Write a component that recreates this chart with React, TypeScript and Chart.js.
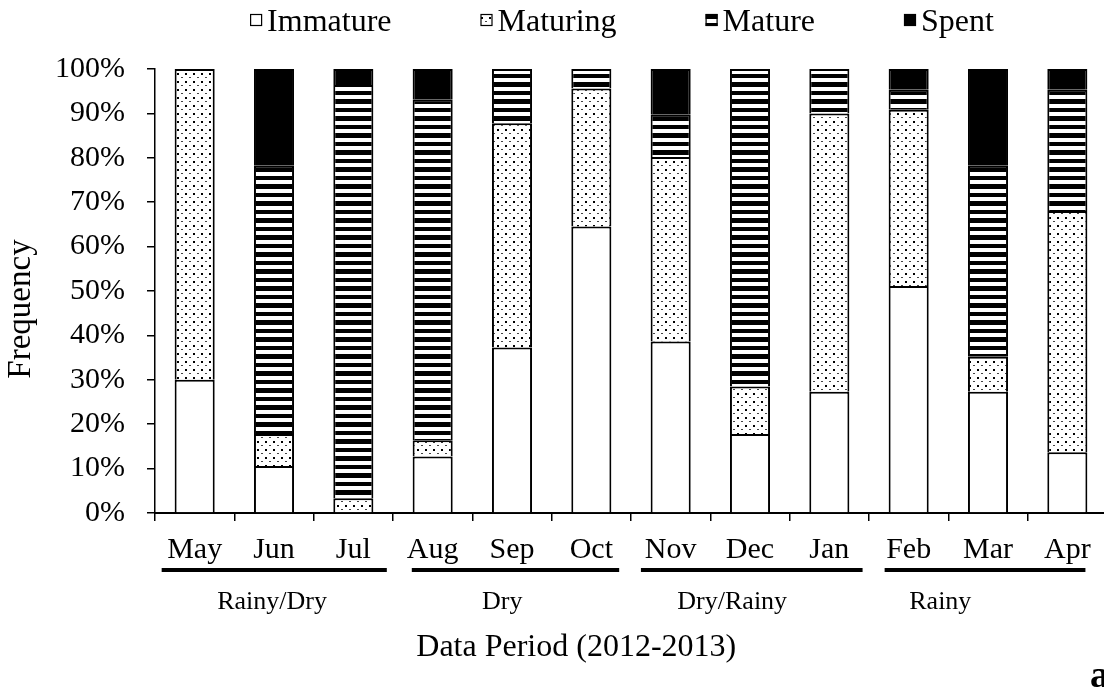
import React, { useEffect, useRef } from "react";
import { Chart, registerables } from "chart.js";

Chart.register(...registerables);

const months = ["May", "Jun", "Jul", "Aug", "Sep", "Oct", "Nov", "Dec", "Jan", "Feb", "Mar", "Apr"];
const immature = [30, 10.6, 0, 12.7, 37.3, 64.5, 38.6, 17.8, 27.3, 51.1, 27.3, 13.7];
const maturing = [70, 7.2, 3.3, 3.7, 50.5, 31.1, 41.6, 10.7, 62.7, 39.7, 7.9, 54.3];
const mature = [0, 60.5, 93.1, 76.8, 12.2, 4.4, 9.6, 71.5, 10.0, 4.5, 43.0, 27.3];
const spent = [0, 21.7, 3.6, 6.8, 0, 0, 10.2, 0, 0, 4.7, 21.8, 4.7];
const seriesNames = ["Immature", "Maturing", "Mature", "Spent"];

const seasonLabels = ["Rainy/Dry", "Dry", "Dry/Rainy", "Rainy"];
// positions in category units, measured from the left edge of the category axis
const seasonStart = [0.084, 3.237, 6.125, 9.197];
const seasonEnd = [2.922, 5.851, 8.919, 11.728];
const seasonLabelAt = [1.475, 4.376, 7.276, 9.899];

const xTitle = "Data Period (2012-2013)";
const yTitle = "Frequency";
const panelLetter = "a";

const FONT = "'Liberation Serif', 'Times New Roman', serif";

function dotPattern(ctx: CanvasRenderingContext2D) {
  const c = document.createElement("canvas");
  c.width = 8;
  c.height = 8;
  const g = c.getContext("2d")!;
  g.fillStyle = "#fff";
  g.fillRect(0, 0, 8, 8);
  g.fillStyle = "#000";
  g.fillRect(1, 1, 2, 2);
  g.fillStyle = "#444";
  g.fillRect(5, 5, 2, 1);
  return ctx.createPattern(c, "repeat")!;
}

function stripePattern(ctx: CanvasRenderingContext2D) {
  const c = document.createElement("canvas");
  c.width = 8;
  c.height = 17;
  const g = c.getContext("2d")!;
  g.fillStyle = "#000";
  g.fillRect(0, 0, 8, 17);
  g.fillStyle = "#fff";
  g.fillRect(0, 2, 8, 4);
  g.fillRect(0, 10, 8, 4);
  return ctx.createPattern(c, "repeat")!;
}

const annotationPlugin = {
  id: "annotations",
  afterDraw(chart: any) {
    const ctx: CanvasRenderingContext2D = chart.ctx;
    const xs = chart.scales.x;
    const ys = chart.scales.y;
    const unit = (xs.right - xs.left) / months.length;
    const px = (u: number) => xs.left + u * unit;
    ctx.save();

    // legend
    ctx.font = `32px ${FONT}`;
    ctx.textBaseline = "alphabetic";
    ctx.textAlign = "left";
    const box = 12;
    const gapBoxText = 5;
    const gapItems = 89;
    const widths = seriesNames.map((n) => box + gapBoxText + ctx.measureText(n).width);
    const total = widths.reduce((a, b) => a + b, 0) + gapItems * (seriesNames.length - 1);
    let lx = 622 - total / 2;
    chart.data.datasets.forEach((ds: any, i: number) => {
      ctx.fillStyle = ds.backgroundColor;
      ctx.fillRect(lx, 14, box, box);
      ctx.strokeStyle = "#000";
      ctx.lineWidth = 1.2;
      ctx.strokeRect(lx + 0.5, 14.5, box - 1, box - 1);
      ctx.fillStyle = "#000";
      ctx.fillText(ds.label, lx + box + gapBoxText, 31);
      lx += widths[i] + gapItems;
    });

    // season underlines and labels
    ctx.fillStyle = "#000";
    seasonLabels.forEach((lab, i) => {
      ctx.fillRect(px(seasonStart[i]), 568, px(seasonEnd[i]) - px(seasonStart[i]), 4);
    });
    ctx.font = `26px ${FONT}`;
    ctx.textAlign = "center";
    ctx.textBaseline = "middle";
    seasonLabels.forEach((lab, i) => {
      ctx.fillText(lab, px(seasonLabelAt[i]), 602);
    });

    // x title
    ctx.font = `32px ${FONT}`;
    ctx.fillText(xTitle, px(5.31), 648);

    // y title
    ctx.save();
    ctx.translate(30, (ys.top + ys.bottom) / 2 + 18);
    ctx.rotate(-Math.PI / 2);
    ctx.font = `33px ${FONT}`;
    ctx.textBaseline = "alphabetic";
    ctx.fillText(yTitle, 0, 0);
    ctx.restore();

    // panel letter
    ctx.font = `bold 38px ${FONT}`;
    ctx.textAlign = "left";
    ctx.textBaseline = "alphabetic";
    ctx.fillText(panelLetter, 1090, 687);

    ctx.restore();
  },
};

export default function App() {
  const ref = useRef<HTMLCanvasElement | null>(null);

  useEffect(() => {
    const canvas = ref.current!;
    const ctx = canvas.getContext("2d")!;
    const fills = ["#ffffff", dotPattern(ctx), stripePattern(ctx), "#000000"];
    const values = [immature, maturing, mature, spent];

    const chart = new Chart(canvas, {
      type: "bar",
      data: {
        labels: months,
        datasets: seriesNames.map((name, i) => ({
          label: name,
          data: values[i],
          backgroundColor: fills[i] as any,
          borderColor: "#000",
          borderWidth: 2,
          borderSkipped: "start",
          barPercentage: 0.505,
          categoryPercentage: 1,
        })),
      },
      options: {
        responsive: false,
        animation: false,
        layout: { padding: { left: 55, right: 3, top: 69, bottom: 125 } },
        plugins: {
          legend: { display: false },
          tooltip: { enabled: false },
        },
        scales: {
          x: {
            stacked: true,
            afterFit: (axis: any) => {
              axis.height = 55;
            },
            grid: {
              display: true,
              drawOnChartArea: false,
              drawTicks: true,
              tickLength: 8,
              color: "#000",
              lineWidth: 1.5,
              offset: true,
            },
            border: { display: true, color: "#000", width: 2 },
            ticks: {
              color: "#000",
              font: { family: FONT, size: 30 },
              padding: 11,
              maxRotation: 0,
              autoSkip: false,
            },
          },
          y: {
            stacked: true,
            min: 0,
            max: 100,
            afterFit: (axis: any) => {
              axis.width = 100;
            },
            grid: {
              display: true,
              drawOnChartArea: false,
              drawTicks: true,
              tickLength: 8,
              color: "#000",
              lineWidth: 1.5,
            },
            border: { display: true, color: "#000", width: 1.5 },
            ticks: {
              stepSize: 10,
              color: "#000",
              font: { family: FONT, size: 30 },
              padding: 22,
              callback: (v: any) => `${v}%`,
            },
          },
        },
      },
      plugins: [annotationPlugin],
    });
    return () => chart.destroy();
  }, []);

  return (
    <div
      style={{
        position: "absolute",
        left: 0,
        top: 0,
        width: 1104,
        height: 693,
        overflow: "hidden",
        background: "#fff",
      }}
    >
      <canvas ref={ref} width={1110} height={693} style={{ display: "block" }} />
    </div>
  );
}
